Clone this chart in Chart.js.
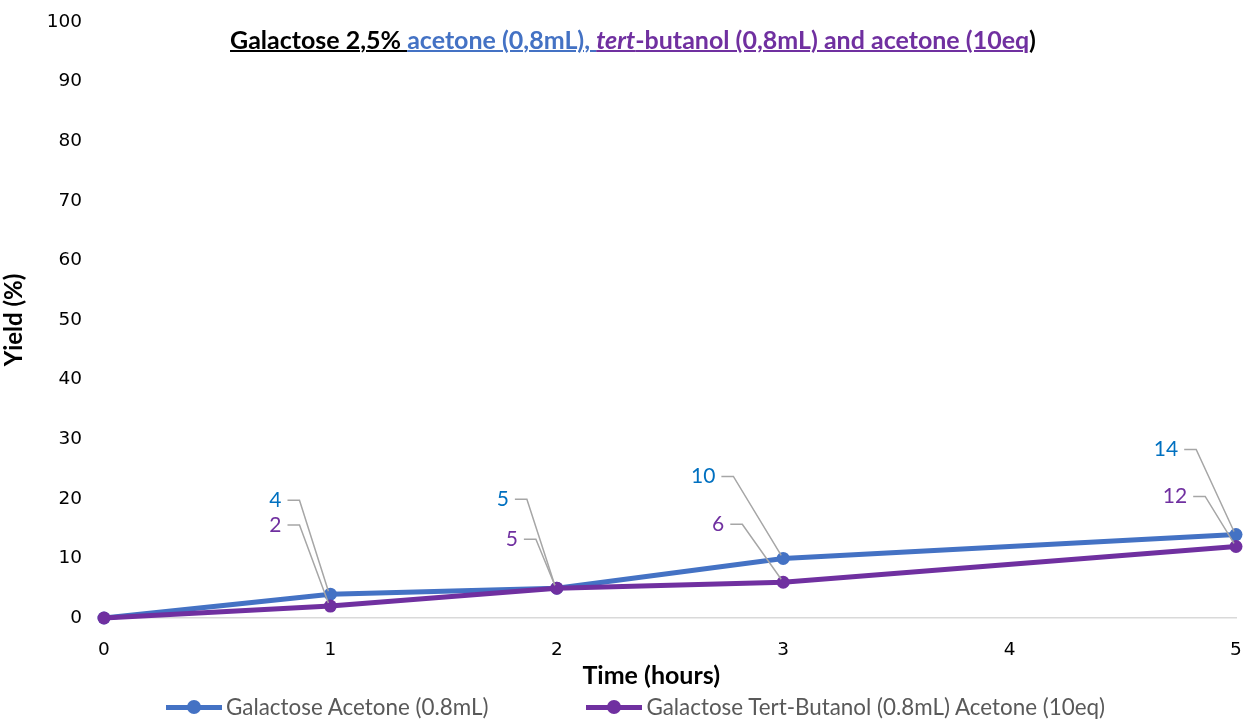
<!DOCTYPE html>
<html>
<head>
<meta charset="utf-8">
<script src="https://cdn.jsdelivr.net/npm/chart.js@4.4.1/dist/chart.umd.min.js"></script>
<style>
	body { margin: 0; background: #fff; }
	#wrap { position: relative; width: 1245px; height: 720px; overflow: hidden; }
	#title { position: absolute; left: 0; width: 1266px; top: 24px; line-height: 30px; text-align: center; font: bold 25px Lato, sans-serif; color: #000; }
	#title .u { text-decoration: underline; text-decoration-thickness: 2px; }
	#title .b { color: #4472C4; }
	#title .p { color: #7030A0; }
	#legend { position: absolute; top: 693px; left: 166px; display: flex; align-items: center; font: 22.4px Lato, sans-serif; color: #595959; line-height: 28px; white-space: nowrap; }
	.item { display: flex; align-items: center; }
	.mk { position: relative; display: inline-block; width: 56px; height: 5px; margin-right: 4px; }
	.mk::after { content: ""; position: absolute; left: 21px; top: -4.5px; width: 14px; height: 14px; border-radius: 50%; background: inherit; }
</style>
</head>
<body>
<div id="wrap">
	<canvas id="chart" width="1245" height="720"></canvas>
	<div id="title"><span class="u">Galactose 2,5% </span><span class="u b">acetone (0,8mL), </span><span class="u p"><i>tert</i>-butanol (0,8mL) and acetone (10eq</span>)</div>
	<div id="legend">
		<div class="item"><span class="mk" style="background:#4472C4"></span>Galactose Acetone (0.8mL)</div>
		<div class="item" style="margin-left:98px"><span class="mk" style="background:#7030A0"></span>Galactose Tert-Butanol (0.8mL) Acetone (10eq)</div>
	</div>
</div>
<script>
	// data
	let times = [0, 1, 2, 3, 5];
	let acetone = [0, 4, 5, 10, 14];
	let tertButanol = [0, 2, 5, 6, 12];
	let yTicks = [0, 10, 20, 30, 40, 50, 60, 70, 80, 90, 100];

	// where each value label sits relative to its point (px)
	let acetoneLabelPos = [null, [-55, -94], [-54, -89], [-80, -82], [-70, -85]];
	let butanolLabelPos = [null, [-55, -81], [-45, -49], [-65, -58], [-61, -50]];

	let blue = "#4472C4";
	let purple = "#7030A0";

	function toPoints(ys) {
		return times.map(function (t, i) { return { x: t, y: ys[i] }; });
	}

	let leaderLabels = {
		id: "leaderLabels",
		afterDatasetsDraw: function (chart) {
			let ctx = chart.ctx;
			chart.data.datasets.forEach(function (ds, i) {
				let meta = chart.getDatasetMeta(i);
				meta.data.forEach(function (pt, j) {
					let off = ds.labelPos[j];
					if (!off) return;
					let lx = pt.x + off[0];
					let ly = pt.y + off[1];
					let txt = String(ds.data[j].y);
					ctx.save();
					ctx.font = "21px Lato, sans-serif";
					let w = ctx.measureText(txt).width;
					ctx.strokeStyle = "#A6A6A6";
					ctx.lineWidth = 1.5;
					ctx.beginPath();
					let sx = lx + w / 2 + 6;
					ctx.moveTo(sx, ly);
					ctx.lineTo(sx + 12, ly);
					ctx.lineTo(pt.x - 2, pt.y - 3);
					ctx.stroke();
					ctx.fillStyle = ds.labelColor;
					ctx.textAlign = "center";
					ctx.textBaseline = "middle";
					ctx.fillText(txt, lx, ly);
					ctx.restore();
				});
			});
		}
	};

	let chart = new Chart(document.getElementById("chart"), {
		type: "line",
		data: {
			datasets: [{
				label: "Galactose Acetone (0.8mL)",
				data: toPoints(acetone),
				borderColor: blue,
				backgroundColor: blue,
				pointBackgroundColor: blue,
				labelColor: "#0070C0",
				labelPos: acetoneLabelPos,
				order: 1
			}, {
				label: "Galactose Tert-Butanol (0.8mL) Acetone (10eq)",
				data: toPoints(tertButanol),
				borderColor: purple,
				backgroundColor: purple,
				pointBackgroundColor: purple,
				labelColor: purple,
				labelPos: butanolLabelPos,
				order: 0
			}]
		},
		options: {
			responsive: false,
			animation: false,
			layout: { padding: { left: 0, right: 9, top: 22, bottom: 27 } },
			elements: {
				line: { borderWidth: 5, tension: 0 },
				point: { radius: 6.5, borderWidth: 0, hoverRadius: 6.5 }
			},
			datasets: { line: { clip: false } },
			plugins: {
				legend: { display: false },
				tooltip: { enabled: false }
			},
			scales: {
				x: {
					type: "linear",
					min: 0,
					max: 5,
					grid: { display: false, drawTicks: false },
					border: { display: true, color: "#D9D9D9", width: 1.5 },
					ticks: { stepSize: 1, padding: 21, color: "#000", font: { family: "DejaVu Sans", size: 18.5 } },
					// trailing spaces nudge the title left, like the original
					title: { display: true, text: "Time (hours)\u2002\u2002\u2002", color: "#000", font: { family: "Lato", size: 25, weight: "bold" }, padding: { top: 0, bottom: 2 } },
					afterFit: function (s) { s.height = 75; s.paddingLeft = 0; s.paddingRight = 0; }
				},
				y: {
					min: 0,
					max: 100,
					afterBuildTicks: function (s) { s.ticks = yTicks.map(function (v) { return { value: v }; }); },
					grid: { display: false, drawTicks: false },
					border: { display: false },
					ticks: { padding: 22, color: "#000", font: { family: "DejaVu Sans", size: 18.5 } },
					title: { display: true, text: "Yield (%)", color: "#000", font: { family: "Lato", size: 24, weight: "bold" }, padding: { top: 0, bottom: 10 } },
					afterFit: function (s) { s.width = 104; s.paddingTop = 0; s.paddingBottom = 0; }
				}
			}
		},
		plugins: [leaderLabels]
	});
</script>
</body>
</html>
